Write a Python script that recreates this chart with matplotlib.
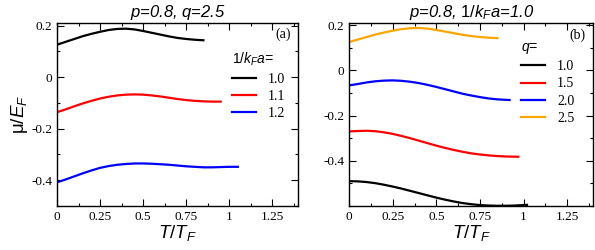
import numpy as np
import matplotlib
matplotlib.use("Agg")
import matplotlib.pyplot as plt
from matplotlib.ticker import MultipleLocator

# panel (a): p=0.8, q=2.5, different 1/kFa
t_a10 = [0, 0.05, 0.1, 0.15, 0.2, 0.25, 0.3, 0.35, 0.4, 0.45, 0.5, 0.55, 0.6, 0.65, 0.7, 0.75, 0.8, 0.85]
mu_a10 = [0.126, 0.137, 0.148, 0.159, 0.168, 0.176, 0.183, 0.187, 0.188, 0.185, 0.179, 0.172, 0.165,
          0.158, 0.152, 0.148, 0.145, 0.143]
t_a11 = [0, 0.05, 0.1, 0.15, 0.2, 0.25, 0.3, 0.35, 0.4, 0.45, 0.5, 0.55, 0.6, 0.65, 0.7, 0.75, 0.8, 0.85, 0.9, 0.95]
mu_a11 = [-0.136, -0.125, -0.113, -0.102, -0.092, -0.083, -0.076, -0.071, -0.068, -0.067, -0.068, -0.071,
          -0.075, -0.080, -0.085, -0.089, -0.092, -0.094, -0.095, -0.095]
t_a12 = [0, 0.05, 0.1, 0.15, 0.2, 0.25, 0.3, 0.35, 0.4, 0.45, 0.5, 0.55, 0.6, 0.65, 0.7, 0.75, 0.8, 0.85,
         0.9, 0.95, 1.0, 1.05]
mu_a12 = [-0.408, -0.397, -0.385, -0.373, -0.362, -0.352, -0.345, -0.340, -0.337, -0.335, -0.335, -0.336,
          -0.338, -0.340, -0.343, -0.346, -0.348, -0.350, -0.350, -0.349, -0.348, -0.348]
labels_a = ["1.0", "1.1", "1.2"]

# panel (b): p=0.8, 1/kFa=1.0, different q
t_b10 = [0, 0.05, 0.1, 0.15, 0.2, 0.25, 0.3, 0.35, 0.4, 0.45, 0.5, 0.55, 0.6, 0.65, 0.7, 0.75, 0.8, 0.85,
         0.9, 0.95, 1.02]
mu_b10 = [-0.490, -0.491, -0.494, -0.499, -0.506, -0.514, -0.523, -0.533, -0.543, -0.553, -0.563, -0.572,
          -0.580, -0.587, -0.592, -0.596, -0.598, -0.599, -0.599, -0.598, -0.595]
t_b15 = [0, 0.05, 0.1, 0.15, 0.2, 0.25, 0.3, 0.35, 0.4, 0.45, 0.5, 0.55, 0.6, 0.65, 0.7, 0.75, 0.8, 0.85, 0.9, 0.97]
mu_b15 = [-0.270, -0.268, -0.267, -0.269, -0.274, -0.281, -0.290, -0.300, -0.311, -0.322, -0.333, -0.343,
          -0.352, -0.360, -0.367, -0.372, -0.376, -0.379, -0.381, -0.382]
t_b20 = [0, 0.05, 0.1, 0.15, 0.2, 0.25, 0.3, 0.35, 0.4, 0.45, 0.5, 0.55, 0.6, 0.65, 0.7, 0.75, 0.8, 0.85, 0.92]
mu_b20 = [-0.066, -0.060, -0.053, -0.048, -0.045, -0.044, -0.046, -0.050, -0.056, -0.064, -0.073, -0.083,
          -0.093, -0.103, -0.111, -0.118, -0.124, -0.128, -0.131]
t_b25 = t_a10
mu_b25 = mu_a10
labels_b = ["1.0", "1.5", "2.0", "2.5"]

plt.rcParams["font.family"] = "Liberation Serif"
plt.rcParams["mathtext.fontset"] = "custom"
plt.rcParams["mathtext.it"] = "Liberation Sans:italic"
plt.rcParams["mathtext.rm"] = "Liberation Sans"
plt.rcParams["mathtext.default"] = "it"

sans_it = dict(family="Liberation Sans", style="italic")

fig = plt.figure(figsize=(5.95, 2.5), dpi=100)
ax1 = fig.add_axes([0.096, 0.176, 0.405, 0.732])
ax2 = fig.add_axes([0.587, 0.176, 0.410, 0.732])


def style(ax, ylo):
    ax.set_xlim(0, 1.4)
    ax.set_ylim(ylo, 0.21)
    ax.xaxis.set_major_locator(MultipleLocator(0.25))
    ax.xaxis.set_minor_locator(MultipleLocator(0.125))
    ax.yaxis.set_major_locator(MultipleLocator(0.2))
    ax.yaxis.set_minor_locator(MultipleLocator(0.1))
    ax.tick_params(which="both", direction="in", top=True, right=True, labelsize=9.5, width=0.8)
    ax.tick_params(which="major", length=5)
    ax.tick_params(which="minor", length=2.5)
    ax.set_xticks([0, 0.25, 0.5, 0.75, 1, 1.25])
    ax.set_xticklabels(["0", "0.25", "0.5", "0.75", "1", "1.25"])
    for s in ax.spines.values():
        s.set_linewidth(1.0)
    ax.set_xlabel(r"$T/T_F$", fontsize=13.5, labelpad=0)


leg_kw = dict(loc="upper right", frameon=False, fontsize=10, handlelength=1.75, handletextpad=0.85,
              labelspacing=0.3, alignment="left", borderaxespad=0.3,
              title_fontproperties=dict(family="Liberation Sans", style="italic", size=10))

style(ax1, -0.5)
ax1.set_yticks([0.2, 0, -0.2, -0.4])
ax1.set_yticklabels(["0.2", "0", "-0.2", "-0.4"])
ax1.plot(t_a10, mu_a10, color="black", lw=1.6, label=labels_a[0])
ax1.plot(t_a11, mu_a11, color="red", lw=1.6, label=labels_a[1])
ax1.plot(t_a12, mu_a12, color="blue", lw=1.6, label=labels_a[2])
ax1.set_ylabel(r"$\mathrm{\mu}/E_F$", fontsize=13.5, labelpad=1)
ax1.set_title(r"$p$=0.8, $q$=2.5", fontsize=12, pad=4, **sans_it)
ax1.text(0.97, 0.94, "(a)", transform=ax1.transAxes, ha="right", va="center", fontsize=10)
ax1.legend(bbox_to_anchor=(0.988, 0.90), title=r"$1/k_Fa$=", **leg_kw)

style(ax2, -0.6)
ax2.set_yticks([0.2, 0, -0.2, -0.4])
ax2.set_yticklabels(["0.2", "0", "-0.2", "-0.4"])
ax2.plot(t_b10, mu_b10, color="black", lw=1.6, label=labels_b[0])
ax2.plot(t_b15, mu_b15, color="red", lw=1.6, label=labels_b[1])
ax2.plot(t_b20, mu_b20, color="blue", lw=1.6, label=labels_b[2])
ax2.plot(t_b25, mu_b25, color="orange", lw=1.6, label=labels_b[3])
ax2.set_title(r"$p$=0.8, $1/k_Fa$=1.0", fontsize=12, pad=4, **sans_it)
ax2.text(0.97, 0.935, "(b)", transform=ax2.transAxes, ha="right", va="center", fontsize=10)
ax2.legend(bbox_to_anchor=(0.963, 0.96), title=r"$q$=", **leg_kw)

fig.savefig("out.png", dpi=100)
